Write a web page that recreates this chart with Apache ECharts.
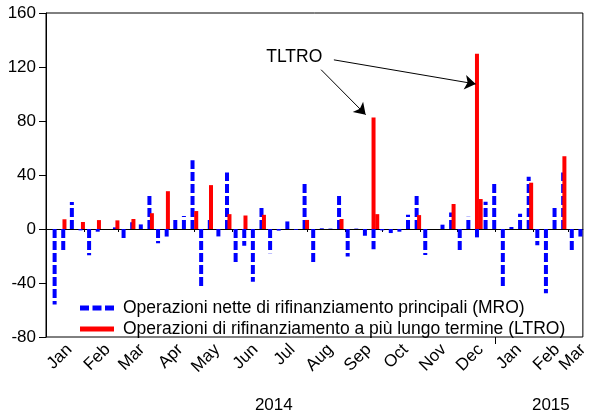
<!DOCTYPE html>
<html>
<head>
<meta charset="utf-8">
<script src="https://cdn.jsdelivr.net/npm/echarts@6/dist/echarts.min.js"></script>
<style>
  html, body { margin: 0; padding: 0; background: #fff; }
  #chart { width: 591px; height: 414px; }
</style>
</head>
<body>
<div id="chart"></div>
<script>
// asse x: giorni dal 1 gennaio 2014
var mroFirstDay = 7; // 8 gen 2014, poi una operazione a settimana
var mroValues = [
  -56, -17.5, 20, -1, -19.5, -2, 0, 1.2, -7, 5,
  3.4, 24.4, -10.6, -5.6, 7.4, 9.6, 51, -43, 7.5, -5.5,
  41.8, -24.8, -12.4, -39, 17, -18, -1.2, 5.6, -0.6, 35,
  -25, 0.5, 0.3, 24.5, -20.3, 0.3, -5, -15, -1, -3,
  -2, 10.6, 25.3, -19.2, 0, 3.2, 12.3, -16.3, 9, -6.2,
  20.2, 35.5, -44, 1.5, 11.3, 38.7, -12, -47.5, 17.8, 41.8,
  -17.3, -5.6
];
var ltroDays   = [15, 30, 43, 58, 71, 86, 99, 122, 134, 149, 162, 177, 212, 240, 266, 269, 303, 331, 350, 353, 394, 421];
var ltroValues = [7.2, 5.2, 6.6, 6.4, 7.4, 11.7, 28, 13.3, 32.5, 11, 10, 10.5, 6.7, 7.4, 82.6, 11, 10.3, 18.5, 129.8, 22.2, 34.3, 53.9];

var monthStarts    = [0, 31, 59, 90, 120, 151, 181, 212, 243, 273, 304, 334, 365, 396, 424];
var monthLabelDays = [19, 50, 78, 109, 139, 170, 200, 231, 262, 292, 323, 353, 384, 415, 436];
var monthNames     = ['Jan', 'Feb', 'Mar', 'Apr', 'May', 'Jun', 'Jul', 'Aug', 'Sep', 'Oct', 'Nov', 'Dec', 'Jan', 'Feb', 'Mar'];
var yearStarts     = [365];
var yearLabelDays  = [185, 410];
var yearNames      = ['2014', '2015'];

var mroName  = 'Operazioni nette di rifinanziamento principali (MRO)';
var ltroName = 'Operazioni di rifinanziamento a più lungo termine (LTRO)';
var font = "'Liberation Sans', Arial, sans-serif";

var mroData = mroValues.map(function (v, i) { return [mroFirstDay + 7 * i, v]; });
var ltroData = ltroDays.map(function (d, i) { return [d, ltroValues[i]]; });

function renderMro(params, api) {
  var p0 = api.coord([api.value(0), 0]);
  var p1 = api.coord([api.value(0), api.value(1)]);
  return {
    type: 'line',
    shape: { x1: p0[0], y1: p0[1], x2: p1[0], y2: p1[1] },
    style: { stroke: '#0000ff', lineWidth: 4, lineDash: [9, 3], lineCap: 'butt' }
  };
}

var myChart = echarts.init(document.getElementById('chart'));

myChart.setOption({
  animation: false,
  textStyle: { fontFamily: font },
  grid: { left: 46, right: 3, top: 13, bottom: 76, show: true, borderColor: '#000', borderWidth: 1 },
  legend: {
    orient: 'vertical',
    left: 75,
    top: 293,
    itemWidth: 34,
    itemHeight: 5,
    itemGap: 1,
    selectedMode: false,
    textStyle: { fontSize: 17.5, color: '#000', fontFamily: font, lineHeight: 20, padding: [0, 0, 0, 4] },
    data: [
      { name: mroName, icon: 'path://M0,0H9V5H0Z M12.5,0H21.5V5H12.5Z M25,0H34V5H25Z' },
      { name: ltroName, icon: 'rect' }
    ]
  },
  xAxis: [
    {
      type: 'value',
      min: 0,
      max: 436,
      axisLine: { lineStyle: { color: '#000', width: 1 } },
      axisTick: { customValues: monthStarts, length: 3, lineStyle: { color: '#000' } },
      axisLabel: {
        customValues: monthLabelDays,
        rotate: 45,
        margin: 10,
        fontSize: 17,
        color: '#000',
        fontFamily: font,
        showMaxLabel: true,
        hideOverlap: false,
        formatter: function (v) { return monthNames[monthLabelDays.indexOf(v)]; }
      },
      splitLine: { show: false }
    },
    {
      type: 'value',
      min: 0,
      max: 436,
      position: 'bottom',
      axisLine: { show: false },
      axisTick: { customValues: yearStarts, length: 7, lineStyle: { color: '#000' } },
      axisLabel: {
        customValues: yearLabelDays,
        margin: 60,
        fontSize: 17,
        color: '#000',
        fontFamily: font,
        formatter: function (v) { return yearNames[yearLabelDays.indexOf(v)]; }
      },
      splitLine: { show: false }
    }
  ],
  yAxis: {
    type: 'value',
    min: -80,
    max: 160,
    interval: 40,
    axisLine: { show: true, lineStyle: { color: '#000', width: 1 } },
    axisTick: { show: true, length: 7, lineStyle: { color: '#000' } },
    axisLabel: { margin: 10, fontSize: 17, color: '#000', fontFamily: font },
    splitLine: { show: false }
  },
  series: [
    {
      name: mroName,
      type: 'custom',
      xAxisIndex: 0,
      itemStyle: { color: '#0000ff' },
      encode: { x: 0, y: 1 },
      renderItem: renderMro,
      data: mroData
    },
    {
      name: ltroName,
      type: 'bar',
      xAxisIndex: 0,
      barWidth: 4,
      itemStyle: { color: '#ff0000' },
      data: ltroData,
      markLine: {
        silent: true,
        symbol: ['none', 'arrow'],
        symbolSize: 11,
        lineStyle: { color: '#000', width: 1, type: 'solid' },
        itemStyle: { color: '#000' },
        label: { show: false },
        data: [
          [{ coord: [223.4, 118] }, { coord: [259.6, 84.7] }],
          [{ coord: [233.8, 125.3] }, { coord: [349, 107.4] }]
        ]
      },
      markPoint: {
        silent: true,
        symbol: 'rect',
        symbolSize: 1,
        itemStyle: { color: 'rgba(0,0,0,0)' },
        label: { show: true, position: 'inside', formatter: 'TLTRO', color: '#000', fontSize: 17.5, fontFamily: font },
        data: [{ coord: [201.6, 127.5] }]
      }
    }
  ]
});

window.onresize = function () {
  myChart.resize();
};
</script>
</body>
</html>
